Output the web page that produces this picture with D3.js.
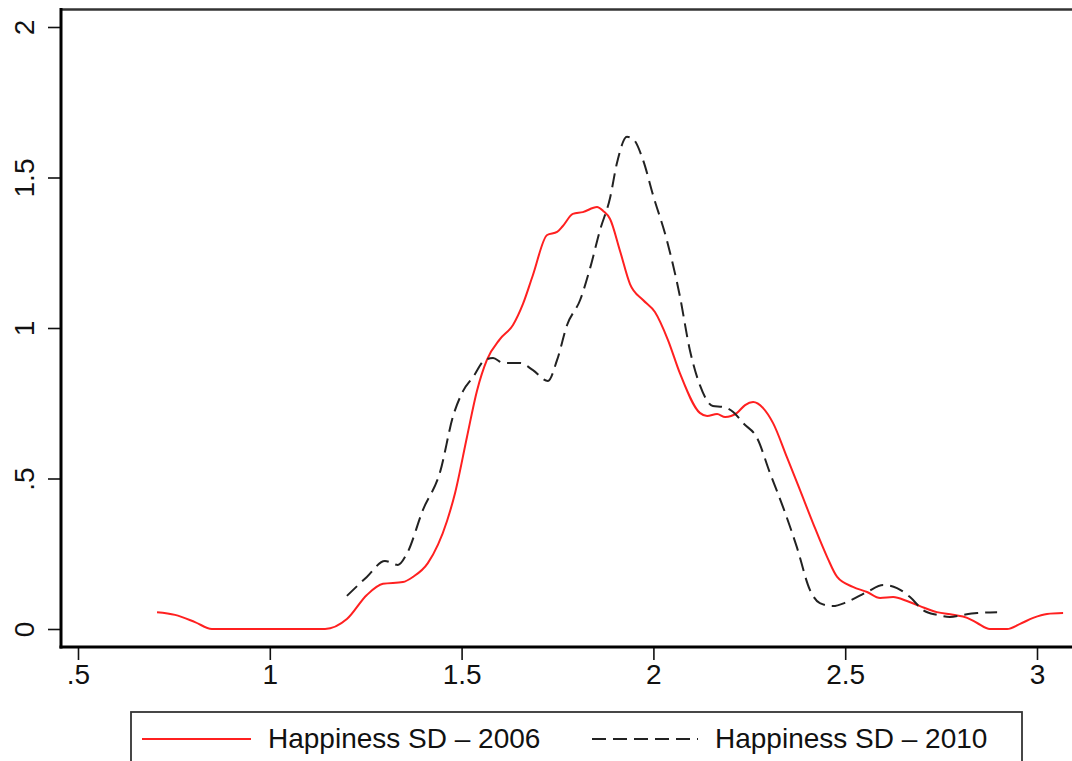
<!DOCTYPE html>
<html>
<head>
<meta charset="utf-8">
<script src="https://cdn.jsdelivr.net/npm/d3@7"></script>
<style>
  html, body { margin: 0; padding: 0; background: #fff; }
  svg { display: block; }
  text { font-family: "Liberation Sans", Arial, sans-serif; fill: #111; }
</style>
</head>
<body>
<svg id="chart" width="1072" height="761"></svg>
<script>
// ---- Data ----
const xTicks = [0.5, 1, 1.5, 2, 2.5, 3];
const xTickLabels = [".5", "1", "1.5", "2", "2.5", "3"];
const yTicks = [0, 0.5, 1, 1.5, 2];
const yTickLabels = ["0", ".5", "1", "1.5", "2"];

const seriesNames = ["Happiness SD \u2013 2006", "Happiness SD \u2013 2010"];

const sd2006X = [0.706,0.753,0.805,0.849,0.95,1.05,1.144,1.201,1.253,1.295,1.347,1.373,1.412,1.462,1.483,1.514,1.540,1.566,1.600,1.634,1.660,1.686,1.723,1.749,1.764,1.790,1.816,1.853,1.869,1.887,1.913,1.939,1.973,2.004,2.038,2.069,2.121,2.140,2.166,2.187,2.218,2.239,2.260,2.286,2.312,2.348,2.382,2.416,2.453,2.479,2.520,2.557,2.591,2.625,2.661,2.695,2.739,2.781,2.818,2.844,2.877,2.922,2.956,2.990,3.026,3.068];
const sd2006Y = [0.056,0.047,0.023,0.0,0.0,0.0,0.0,0.033,0.113,0.150,0.156,0.173,0.219,0.359,0.452,0.638,0.791,0.894,0.963,1.010,1.080,1.176,1.309,1.319,1.339,1.379,1.385,1.402,1.389,1.362,1.256,1.146,1.093,1.053,0.960,0.850,0.718,0.708,0.714,0.704,0.718,0.744,0.754,0.734,0.684,0.571,0.462,0.352,0.239,0.173,0.140,0.123,0.103,0.106,0.093,0.076,0.056,0.047,0.037,0.020,0.0,0.0,0.017,0.037,0.050,0.053];

const sd2010X = [1.201,1.253,1.300,1.334,1.358,1.399,1.444,1.478,1.504,1.530,1.561,1.582,1.608,1.652,1.686,1.725,1.749,1.775,1.809,1.835,1.861,1.887,1.905,1.931,1.947,1.973,1.999,2.035,2.069,2.095,2.121,2.155,2.181,2.208,2.234,2.270,2.304,2.338,2.374,2.408,2.434,2.468,2.505,2.557,2.599,2.635,2.669,2.703,2.739,2.773,2.807,2.844,2.896];
const sd2010Y = [0.110,0.173,0.226,0.213,0.252,0.395,0.522,0.708,0.791,0.837,0.894,0.900,0.884,0.884,0.860,0.824,0.894,1.010,1.093,1.199,1.326,1.432,1.548,1.635,1.628,1.558,1.442,1.292,1.106,0.927,0.811,0.741,0.738,0.721,0.684,0.635,0.518,0.405,0.272,0.130,0.086,0.076,0.090,0.123,0.146,0.136,0.106,0.063,0.047,0.040,0.047,0.053,0.056];

// ---- Layout ----
const svg = d3.select("#chart");
const W = 1072;
const plotLeft = 61, plotTop = 9.5, plotBottom = 647;

const x = d3.scaleLinear().domain([0.5, 3]).range([78, 1037]);
const y = d3.scaleLinear().domain([0, 2]).range([629, 27]);

// plot region top border
svg.append("line")
  .attr("x1", plotLeft).attr("x2", W + 5)
  .attr("y1", plotTop).attr("y2", plotTop)
  .attr("stroke", "#333").attr("stroke-width", 2.5);

// Y axis
const yAxis = d3.axisLeft(y).tickValues(yTicks)
  .tickFormat((d, i) => yTickLabels[i]).tickSize(13).tickSizeOuter(0);
const gy = svg.append("g").attr("transform", `translate(${plotLeft},0)`).call(yAxis);
gy.select(".domain").remove();
gy.selectAll(".tick line").attr("stroke", "#111").attr("stroke-width", 1.6);
gy.selectAll(".tick text")
  .attr("font-size", 28)
  .attr("fill", "#111")
  .attr("text-anchor", "middle")
  .attr("dominant-baseline", "central")
  .attr("x", 0).attr("dy", 0)
  .attr("transform", "translate(-37,0) rotate(-90)");
svg.append("line")
  .attr("x1", plotLeft).attr("x2", plotLeft)
  .attr("y1", plotTop - 1.5).attr("y2", plotBottom + 1.5)
  .attr("stroke", "#000").attr("stroke-width", 3);

// X axis
const xAxis = d3.axisBottom(x).tickValues(xTicks)
  .tickFormat((d, i) => xTickLabels[i]).tickSize(13).tickSizeOuter(0);
const gx = svg.append("g").attr("transform", `translate(0,${plotBottom})`).call(xAxis);
gx.select(".domain").remove();
gx.selectAll(".tick line").attr("stroke", "#111").attr("stroke-width", 1.6);
gx.selectAll(".tick text")
  .attr("font-size", 28)
  .attr("fill", "#111")
  .attr("y", 17).attr("dy", "0.71em");
svg.append("line")
  .attr("x1", plotLeft - 1.5).attr("x2", W + 5)
  .attr("y1", plotBottom).attr("y2", plotBottom)
  .attr("stroke", "#000").attr("stroke-width", 3);

// Lines
const line = d3.line().x(d => x(d[0])).y(d => y(d[1])).curve(d3.curveMonotoneX);
const d2006 = sd2006X.map((v, i) => [v, sd2006Y[i]]);
const d2010 = sd2010X.map((v, i) => [v, sd2010Y[i]]);

svg.append("path").datum(d2006).attr("d", line)
  .attr("fill", "none").attr("stroke", "#ff2020").attr("stroke-width", 2)
  .attr("stroke-linejoin", "round");
svg.append("path").datum(d2010).attr("d", line)
  .attr("fill", "none").attr("stroke", "#222").attr("stroke-width", 2)
  .attr("stroke-dasharray", "14,7");

// Legend
const lg = svg.append("g");
lg.append("rect")
  .attr("x", 131).attr("y", 712).attr("width", 891).attr("height", 70)
  .attr("fill", "#fff").attr("stroke", "#333").attr("stroke-width", 1.8);
lg.append("line").attr("x1", 142).attr("x2", 251).attr("y1", 739).attr("y2", 739)
  .attr("stroke", "#ff2020").attr("stroke-width", 2);
lg.append("text").attr("x", 268).attr("y", 748).attr("font-size", 28).text(seriesNames[0]);
lg.append("line").attr("x1", 592).attr("x2", 698).attr("y1", 739).attr("y2", 739)
  .attr("stroke", "#222").attr("stroke-width", 2).attr("stroke-dasharray", "14,7");
lg.append("text").attr("x", 715).attr("y", 748).attr("font-size", 28).text(seriesNames[1]);
</script>
</body>
</html>
